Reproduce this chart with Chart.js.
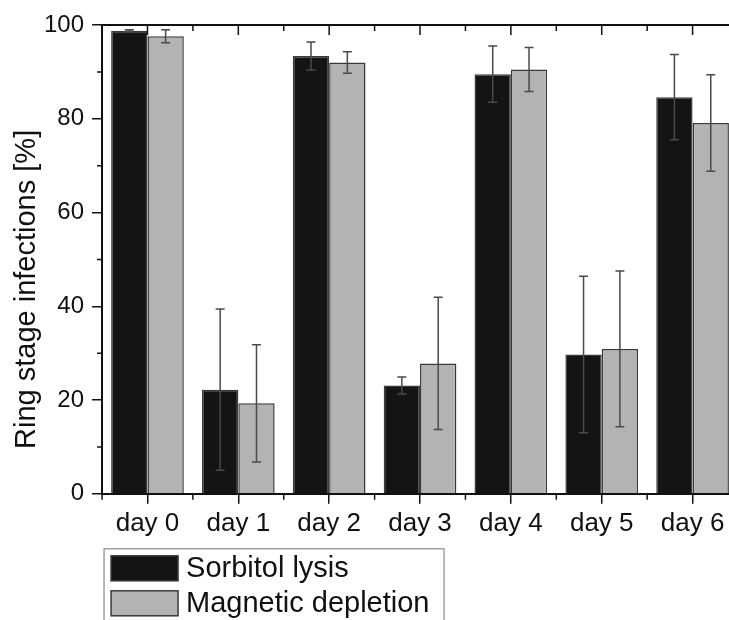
<!DOCTYPE html>
<html><head><meta charset="utf-8">
<script src="https://cdn.jsdelivr.net/npm/chart.js@4.4.1/dist/chart.umd.min.js"></script>
<style>
html,body{margin:0;padding:0;overflow:hidden;background:#fff;width:729px;height:620px;}
#wrap{position:relative;width:740px;height:620px;}
</style></head><body>
<div id="wrap"><canvas id="c"></canvas></div>
<script>
const categories = ['day 0','day 1','day 2','day 3','day 4','day 5','day 6'];
const sorbitolLysis = [98.8, 22.2, 93.4, 23.1, 89.5, 29.7, 84.6];
const sorbitolErr = [0.2, 17.2, 3.0, 1.8, 6.0, 16.7, 9.1];
const magneticDepletion = [97.6, 19.3, 92.0, 27.8, 90.5, 30.9, 79.1];
const magneticErr = [1.4, 12.5, 2.3, 14.1, 4.7, 16.6, 10.3];
const yTicks = [0, 20, 40, 60, 80, 100];
const yMinorTicks = [10, 30, 50, 70, 90];
const seriesNames = ['Sorbitol lysis', 'Magnetic depletion'];
const yTitle = 'Ring stage infections [%]';

const FONT = "'Liberation Sans', Arial, Helvetica, sans-serif";
const errs = [sorbitolErr, magneticErr];

const errorBarPlugin = {
  id: 'errorBars',
  afterDatasetsDraw(chart) {
    const ctx = chart.ctx, y = chart.scales.y;
    ctx.save();
    ctx.strokeStyle = '#4a4a4a';
    ctx.lineWidth = 1.5;
    chart.data.datasets.forEach((ds, di) => {
      const meta = chart.getDatasetMeta(di);
      meta.data.forEach((bar, i) => {
        const v = ds.data[i], e = errs[di][i];
        const x = bar.x;
        const yt = y.getPixelForValue(v + e), yb = y.getPixelForValue(v - e);
        ctx.beginPath();
        ctx.moveTo(x, yt); ctx.lineTo(x, yb);
        ctx.moveTo(x - 4.5, yt); ctx.lineTo(x + 4.5, yt);
        ctx.moveTo(x - 4.5, yb); ctx.lineTo(x + 4.5, yb);
        ctx.stroke();
      });
    });
    ctx.restore();
  }
};

const framePlugin = {
  id: 'frame',
  afterDraw(chart) {
    const ctx = chart.ctx, a = chart.chartArea, x = chart.scales.x, y = chart.scales.y;
    ctx.save();
    ctx.strokeStyle = '#111';
    ctx.lineWidth = 2;
    ctx.beginPath();
    ctx.moveTo(a.left - 1, a.top); ctx.lineTo(a.right, a.top);
    ctx.moveTo(a.right, a.top); ctx.lineTo(a.right, a.bottom);
    ctx.stroke();
    ctx.lineWidth = 1.5;
    const w = x.getPixelForValue(1) - x.getPixelForValue(0);
    ctx.beginPath();
    categories.forEach((c, i) => {
      const cx = x.getPixelForValue(i);
      ctx.moveTo(cx, a.top); ctx.lineTo(cx, a.top + 10);
    });
    for (let k = 0; k <= categories.length; k++) {
      const bx = x.getPixelForValue(0) - w / 2 + k * w;
      ctx.moveTo(bx, a.top); ctx.lineTo(bx, a.top + 6);
      ctx.moveTo(bx, a.bottom); ctx.lineTo(bx, a.bottom + 6);
    }
    yMinorTicks.forEach(v => {
      const py = y.getPixelForValue(v);
      ctx.moveTo(a.left - 5, py); ctx.lineTo(a.left, py);
    });
    ctx.stroke();

    // y axis title
    ctx.save();
    ctx.fillStyle = '#111';
    ctx.font = '29px ' + FONT;
    ctx.textAlign = 'center';
    ctx.textBaseline = 'alphabetic';
    ctx.translate(a.left - 67, (a.top + a.bottom) / 2 + 30);
    ctx.rotate(-Math.PI / 2);
    ctx.fillText(yTitle, 0, 0);
    ctx.restore();

    // legend
    const lx = a.left + 2, ly = a.bottom + 55;
    ctx.strokeStyle = '#8a8a8a';
    ctx.lineWidth = 1.2;
    ctx.strokeRect(lx, ly, 340, 120);
    ctx.font = '29px ' + FONT;
    ctx.textAlign = 'left';
    ctx.textBaseline = 'middle';
    chart.data.datasets.forEach((ds, i) => {
      const sy = ly + 7 + i * 35;
      ctx.fillStyle = ds.backgroundColor;
      ctx.fillRect(lx + 7, sy, 67, 25);
      ctx.strokeStyle = ds.borderColor;
      ctx.lineWidth = 1.5;
      ctx.strokeRect(lx + 7, sy, 67, 25);
      ctx.fillStyle = '#111';
      ctx.fillText(ds.label, lx + 82, sy + 13);
    });
    ctx.restore();
  }
};

new Chart(document.getElementById('c'), {
  type: 'bar',
  data: {
    labels: categories,
    datasets: [
      { label: seriesNames[0], data: sorbitolLysis, backgroundColor: '#141414', borderColor: '#3a3a3a', borderWidth: 1.5, categoryPercentage: 0.8, barPercentage: 1.0 },
      { label: seriesNames[1], data: magneticDepletion, backgroundColor: '#b3b3b3', borderColor: '#3a3a3a', borderWidth: 1.5, categoryPercentage: 0.8, barPercentage: 1.0 }
    ]
  },
  options: {
    responsive: true,
    maintainAspectRatio: false,
    animation: false,
    layout: { padding: { left: 36, right: 2, top: 25, bottom: 77 } },
    plugins: { legend: { display: false }, tooltip: { enabled: false } },
    scales: {
      x: {
        grid: { display: true, drawOnChartArea: false, drawTicks: true, tickLength: 10, offset: false, color: '#111', lineWidth: 1.5 },
        border: { display: true, color: '#111', width: 2 },
        ticks: { font: { family: FONT, size: 26 }, color: '#111', padding: 4, maxRotation: 0, autoSkip: false }
      },
      y: {
        min: 0, max: 100,
        afterBuildTicks: s => { s.ticks = yTicks.map(v => ({ value: v })); },
        grid: { drawOnChartArea: false, drawTicks: true, tickLength: 10, color: '#111', lineWidth: 1.5 },
        border: { display: true, color: '#111', width: 2 },
        ticks: { font: { family: FONT, size: 24 }, color: '#111', padding: 8 }
      }
    }
  },
  plugins: [errorBarPlugin, framePlugin]
});
</script>
</body></html>
